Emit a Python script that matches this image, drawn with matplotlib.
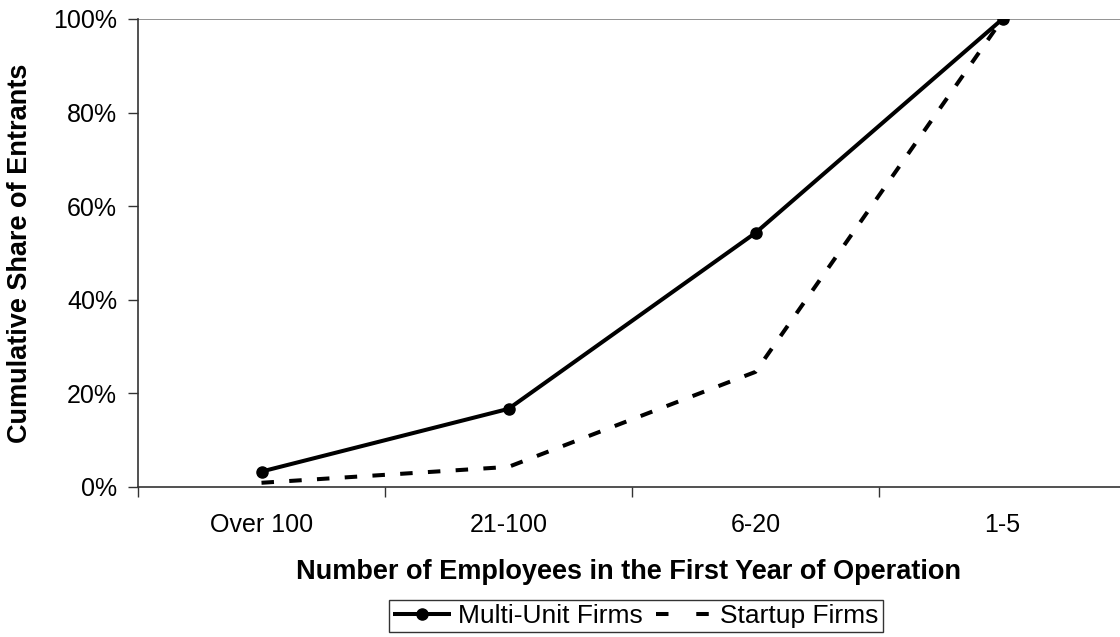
import matplotlib
matplotlib.use("Agg")
import matplotlib.pyplot as plt
from matplotlib.lines import Line2D
from matplotlib.ticker import FixedLocator, NullFormatter

plt.rcParams['font.family'] = ['Liberation Sans', 'DejaVu Sans']

categories = ["Over 100", "21-100", "6-20", "1-5"]
multi_unit = [3.3, 16.7, 54.3, 100.0]
startup = [0.9, 4.3, 24.6, 100.0]
y_ticks = [0, 20, 40, 60, 80, 100]
y_tick_labels = ["0%", "20%", "40%", "60%", "80%", "100%"]

W, H = 1120, 637
fig = plt.figure(figsize=(W / 100, H / 100), dpi=100)
ax = fig.add_axes([138 / W, 1 - 487 / H, (1126 - 138) / W, (487 - 19) / H])

x = list(range(len(categories)))
ax.axhline(100, color="#808080", lw=1.2, zorder=1)
l1, = ax.plot(x, multi_unit, color="black", lw=2.9, marker="o", markersize=8,
              label="Multi-Unit Firms", zorder=3, solid_capstyle="butt")
ax.plot(x, startup, color="black", lw=2.9, dashes=(3.1, 3.8),
        dash_capstyle="butt", label="Startup Firms", zorder=2)

ax.set_xlim(-0.5, len(categories) - 0.5)
ax.set_ylim(0, 100)
ax.set_yticks(y_ticks)
ax.set_yticklabels(y_tick_labels, fontsize=18)

ax.xaxis.set_major_locator(FixedLocator([i - 0.5 for i in range(len(categories) + 1)]))
ax.xaxis.set_major_formatter(NullFormatter())
ax.xaxis.set_minor_locator(FixedLocator(x))
ax.set_xticklabels(categories, minor=True, fontsize=18)
ax.tick_params(axis="x", which="minor", length=0, pad=19)
ax.tick_params(axis="x", which="major", length=7, width=1, color="#333333", direction="out")
ax.tick_params(axis="y", length=7, width=1, color="#333333", direction="out", pad=8)

for s in ["top", "right"]:
    ax.spines[s].set_visible(False)
for s in ["left", "bottom"]:
    ax.spines[s].set_color("#333333")
    ax.spines[s].set_linewidth(1.2)

fig.text(20 / W, 1 - 253 / H, "Cumulative Share of Entrants", rotation=90,
         ha="center", va="center", fontsize=19.5, fontweight="bold")
fig.text(629 / W, 1 - 572 / H, "Number of Employees in the First Year of Operation",
         ha="center", va="center", fontsize=19.5, fontweight="bold")

dash_proxy = Line2D([], [], color="black", lw=2.9, dashes=(3.1, 6.9),
                    dash_capstyle="butt")
leg = fig.legend([l1, dash_proxy], ["Multi-Unit Firms", "Startup Firms"],
                 loc="center", bbox_to_anchor=(636 / W, 1 - 616 / H), ncol=2,
                 fontsize=19, frameon=True, fancybox=False, edgecolor="black",
                 handlelength=2.2, handletextpad=0.25, columnspacing=0.5,
                 borderpad=0.15, borderaxespad=0)
leg.get_frame().set_linewidth(1.0)

fig.savefig("out.png", dpi=100, facecolor="white")
